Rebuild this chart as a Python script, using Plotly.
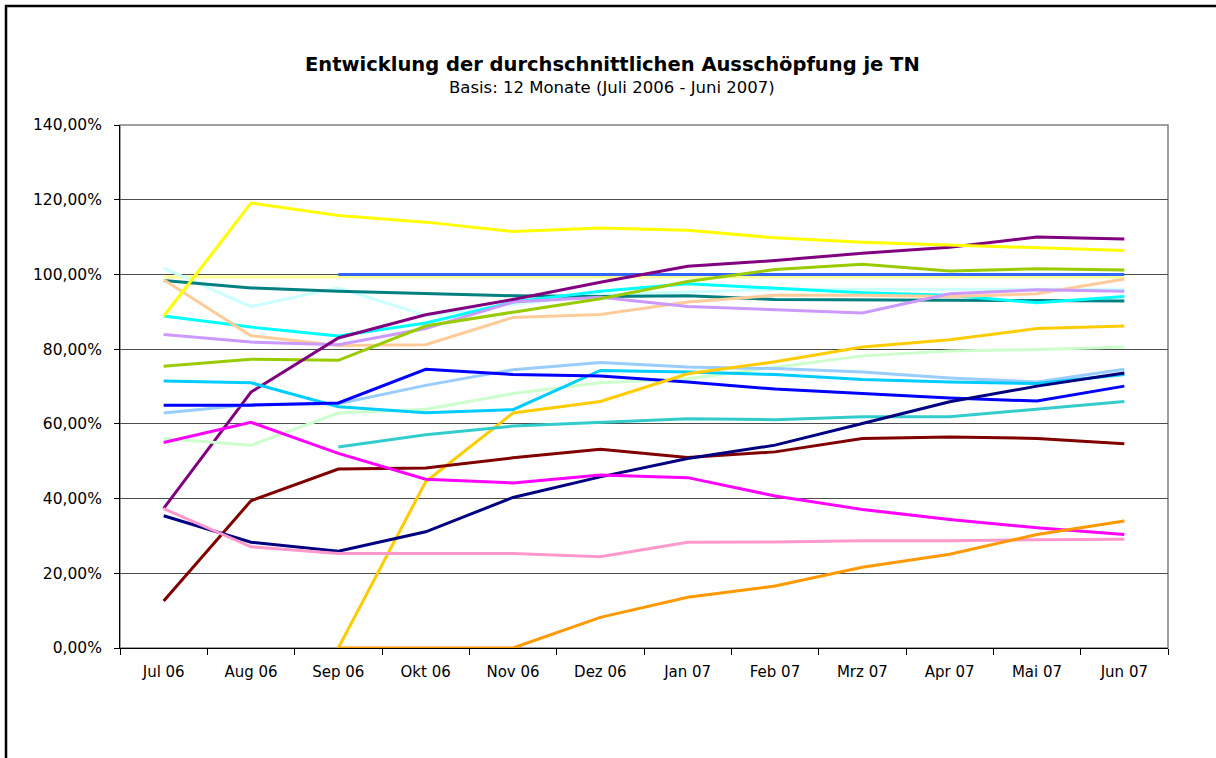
import plotly.graph_objects as go

months = ["Jul 06", "Aug 06", "Sep 06", "Okt 06", "Nov 06", "Dez 06",
          "Jan 07", "Feb 07", "Mrz 07", "Apr 07", "Mai 07", "Jun 07"]

y_tickvals = [0, 20, 40, 60, 80, 100, 120, 140]
y_ticktext = ["0,00%", "20,00%", "40,00%", "60,00%", "80,00%", "100,00%", "120,00%", "140,00%"]

title_text = "Entwicklung der durchschnittlichen Ausschöpfung je TN"
subtitle_text = "Basis: 12 Monate (Juli 2006 - Juni 2007)"

# values in percent, None = no value
s_light_yellow = [99.3, 99.3, 99.3, 99.3, 99.3, 99.3, 99.3, 99.3, 99.3, 99.3, 99.3, 99.3]
s_royal_blue = [None, None, 100, 100, 100, 100, 100, 100, 100, 100, 100, 100]
s_light_cyan = [101.7, 91.4, 96.4, 89.0, 92.0, 94.5, 95.3, 96.0, 96.0, 96.0, 96.0, 96.0]
s_teal = [98.4, 96.4, 95.5, 94.8, 94.3, 94.1, 94.3, 93.3, 93.3, 93.1, 93.0, 92.9]
s_cyan = [88.9, 85.9, 83.5, 87.0, 92.6, 95.5, 97.5, 96.2, 95.1, 94.4, 92.4, 94.1]
s_peach = [98.6, 83.6, 81.0, 81.2, 88.5, 89.3, 92.6, 94.4, 94.4, 94.1, 94.8, 98.8]
s_lavender = [83.9, 81.9, 81.2, 85.5, 92.6, 93.9, 91.4, 90.6, 89.7, 94.8, 95.9, 95.5]
s_yellow_green = [75.4, 77.3, 77.0, 86.2, 89.9, 93.5, 98.1, 101.3, 102.7, 100.9, 101.5, 101.2]
s_purple = [37.4, 68.5, 83.0, 89.2, 93.3, 97.9, 102.2, 103.7, 105.7, 107.3, 110.0, 109.5]
s_yellow = [88.8, 119.1, 115.8, 114.0, 111.5, 112.4, 111.8, 109.8, 108.6, 107.9, 107.0, 106.4]
s_light_green = [56.1, 54.3, 62.9, 63.9, 68.1, 71.0, 72.1, 75.2, 78.2, 79.5, 79.9, 80.6]
s_light_blue = [62.9, 65.2, 65.4, 70.3, 74.5, 76.4, 75.2, 74.8, 73.9, 72.3, 71.2, 74.6]
s_sky_blue = [71.5, 71.0, 64.6, 63.0, 63.8, 74.3, 73.9, 73.2, 71.9, 71.2, 70.8, 73.2]
s_blue = [65.0, 65.0, 65.6, 74.6, 73.2, 72.8, 71.2, 69.3, 68.1, 66.9, 66.1, 70.1]
s_gold = [None, None, 0.0, 44.5, 62.9, 66.0, 73.4, 76.6, 80.6, 82.5, 85.5, 86.2]
s_turquoise = [None, None, 53.8, 57.1, 59.4, 60.5, 61.4, 61.1, 61.9, 61.9, 63.9, 66.0]
s_maroon = [12.6, 39.4, 47.9, 48.2, 50.9, 53.2, 51.0, 52.5, 56.1, 56.5, 56.1, 54.7]
s_navy = [35.4, 28.3, 25.9, 31.1, 40.3, 45.8, 50.7, 54.3, 60.1, 65.9, 70.1, 73.6]
s_magenta = [55.0, 60.4, 52.1, 45.2, 44.2, 46.3, 45.6, 40.7, 37.1, 34.4, 32.2, 30.4]
s_pink = [37.3, 27.1, 25.3, 25.3, 25.3, 24.4, 28.3, 28.4, 28.7, 28.7, 29.0, 29.1]
s_orange = [None, None, 0.0, 0.0, 0.0, 8.2, 13.6, 16.6, 21.6, 25.1, 30.4, 34.0]

series = [
    ("TN 1", s_light_yellow, "#FFFF99"),
    ("TN 2", s_royal_blue, "#3366FF"),
    ("TN 3", s_light_cyan, "#CCFFFF"),
    ("TN 4", s_teal, "#008080"),
    ("TN 5", s_cyan, "#00FFFF"),
    ("TN 6", s_peach, "#FFCC99"),
    ("TN 7", s_lavender, "#CC99FF"),
    ("TN 8", s_yellow_green, "#99CC00"),
    ("TN 9", s_purple, "#800080"),
    ("TN 10", s_yellow, "#FFFF00"),
    ("TN 11", s_light_green, "#CCFFCC"),
    ("TN 12", s_light_blue, "#99CCFF"),
    ("TN 13", s_sky_blue, "#00CCFF"),
    ("TN 14", s_blue, "#0000FF"),
    ("TN 15", s_gold, "#FFCC00"),
    ("TN 16", s_turquoise, "#33CCCC"),
    ("TN 17", s_maroon, "#800000"),
    ("TN 18", s_navy, "#000080"),
    ("TN 19", s_magenta, "#FF00FF"),
    ("TN 20", s_pink, "#FF99CC"),
    ("TN 21", s_orange, "#FF9900"),
]

W, H = 1216, 758
ML, MR, MT, MB = 120, 48, 125, 110
PW, PH = W - ML - MR, H - MT - MB

def px_x(x):
    return (x - ML) / PW

def px_y(y):
    return (H - MB - y) / PH

fig = go.Figure()
for name, vals, color in series:
    fig.add_trace(go.Scatter(
        x=months, y=vals, name=name, mode="lines",
        line=dict(color=color, width=3),
        connectgaps=False, showlegend=False, hoverinfo="x+y+name",
    ))

FONT = "DejaVu Sans"

fig.update_layout(
    width=W, height=H,
    margin=dict(l=ML, r=MR, t=MT, b=MB),
    paper_bgcolor="white", plot_bgcolor="white",
    font=dict(family=FONT, size=15, color="black"),
    showlegend=False,
    xaxis=dict(
        type="category", categoryorder="array", categoryarray=months,
        showgrid=False, tickson="boundaries", ticks="outside", ticklen=6,
        tickcolor="black", showline=True, linecolor="black", linewidth=1,
        tickfont=dict(family=FONT, size=15), range=[-0.5, 11.5],
        ticklabelstandoff=10,
    ),
    yaxis=dict(
        range=[0, 140], tickvals=y_tickvals, ticktext=y_ticktext,
        showgrid=True, gridcolor="#4d4d4d", gridwidth=1,
        ticks="outside", ticklen=5, tickcolor="black",
        showline=True, linecolor="black", linewidth=1,
        tickfont=dict(family=FONT, size=15.5), zeroline=False,
        ticklabelstandoff=9,
    ),
    shapes=[
        # plot area border (grey)
        dict(type="rect", xref="paper", yref="paper", x0=0, y0=0, x1=1, y1=1,
             line=dict(color="#808080", width=1.5), layer="below"),
        # outer chart frame
        dict(type="rect", xref="paper", yref="paper",
             x0=px_x(6), y0=px_y(6), x1=px_x(W + 20), y1=px_y(H + 20),
             line=dict(color="black", width=2.5)),
    ],
    annotations=[
        dict(text="<b>" + title_text + "</b>", xref="paper", yref="paper",
             x=px_x(612), y=px_y(65), xanchor="center", yanchor="middle",
             showarrow=False, font=dict(family=FONT, size=19.5, color="black")),
        dict(text=subtitle_text, xref="paper", yref="paper",
             x=px_x(612), y=px_y(88), xanchor="center", yanchor="middle",
             showarrow=False, font=dict(family=FONT, size=16.5, color="black")),
    ],
)

fig.write_html("out.html", config={"displayModeBar": False},
               post_script="document.body.style.margin='0';document.body.style.overflow='hidden';")
